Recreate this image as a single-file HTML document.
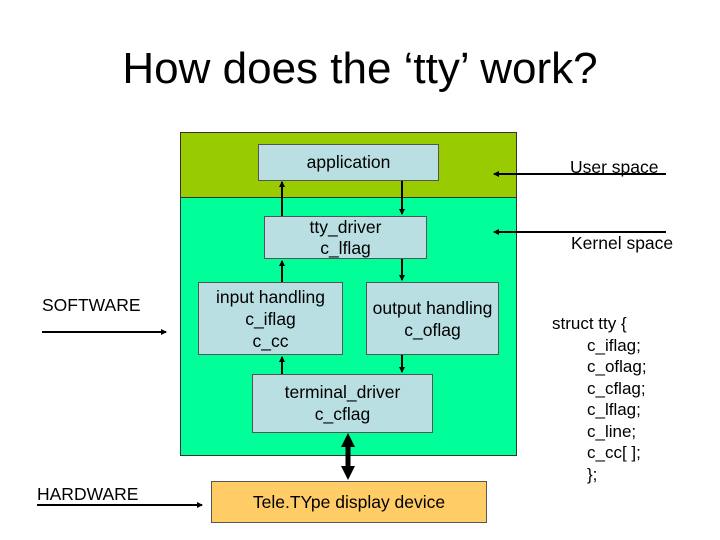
<!DOCTYPE html>
<html><head><style>
body{margin:0;width:720px;height:540px;background:#fff;position:relative;font-family:"Liberation Sans",sans-serif;overflow:hidden}
.a{position:absolute}
.b{position:absolute;background:#b9dfe3;border:1px solid #555;box-sizing:border-box;text-align:center;font-size:17.5px;line-height:22px;color:#000}
.t{position:absolute;font-size:17.5px;color:#000}
</style></head><body>
<div class="a" style="left:0;top:44px;width:720px;text-align:center;font-size:44px;line-height:50px">How does the ‘tty’ work?</div>
<div class="a" style="left:180px;top:132px;width:337px;height:66px;background:#99cc00;border:1px solid #333;box-sizing:border-box"></div>
<div class="a" style="left:180px;top:197px;width:337px;height:259px;background:#00ff99;border:1px solid #333;box-sizing:border-box"></div>
<div class="b" style="left:258px;top:144px;width:181px;height:37px;padding-top:6px">application</div>
<div class="b" style="left:264px;top:216px;width:163px;height:43px;line-height:21px;padding-top:0px">tty_driver<br>c_lflag</div>
<div class="b" style="left:198px;top:282px;width:145px;height:73px;line-height:22px;padding-top:3px">input handling<br>c_iflag<br>c_cc</div>
<div class="b" style="left:366px;top:282px;width:133px;height:73px;line-height:22px;padding-top:14px">output handling<br>c_oflag</div>
<div class="b" style="left:252px;top:374px;width:181px;height:59px;line-height:22px;padding-top:6px">terminal_driver<br>c_cflag</div>
<div class="b" style="left:211px;top:481px;width:276px;height:42px;background:#ffcc66;line-height:40px">Tele.TYpe display device</div>
<svg class="a" style="left:0;top:0" width="720" height="540">
<defs>
<marker id="m" markerWidth="6" markerHeight="6" refX="5" refY="3" orient="auto" markerUnits="userSpaceOnUse"><path d="M0,0L6,3L0,6z" fill="#000"/></marker>
</defs>
<g stroke="#000" stroke-width="2" fill="none">
<line x1="282" y1="216" x2="282" y2="182" marker-end="url(#m)"/>
<line x1="402" y1="181" x2="402" y2="214" marker-end="url(#m)"/>
<line x1="282" y1="282" x2="282" y2="261" marker-end="url(#m)"/>
<line x1="402" y1="259" x2="402" y2="280" marker-end="url(#m)"/>
<line x1="282" y1="374" x2="282" y2="357" marker-end="url(#m)"/>
<line x1="402" y1="355" x2="402" y2="372" marker-end="url(#m)"/>
<line x1="666" y1="174" x2="494" y2="174" marker-end="url(#m)"/>
<line x1="666" y1="232" x2="494" y2="232" marker-end="url(#m)"/>
<line x1="42" y1="332" x2="166" y2="332" marker-end="url(#m)"/>
<line x1="37" y1="505" x2="202" y2="505" marker-end="url(#m)"/>
<line x1="348" y1="446" x2="348" y2="467" stroke-width="5"/>
</g>
<path d="M348,433L341,447L355,447z M348,480L341,466L355,466z" fill="#000"/>
</svg>
<div class="t" style="left:570px;top:157px">User space</div>
<div class="t" style="left:571px;top:233px">Kernel space</div>
<div class="t" style="left:42px;top:295px">SOFTWARE</div>
<div class="t" style="left:37px;top:484px">HARDWARE</div>
<div class="t" style="left:552px;top:313px;line-height:21.5px;font-size:17px">struct tty {</div>
<div class="t" style="left:587px;top:334.5px;line-height:21.5px;font-size:17px">c_iflag;<br>c_oflag;<br>c_cflag;<br>c_lflag;<br>c_line;<br>c_cc[ ];<br>};</div>
</body></html>
